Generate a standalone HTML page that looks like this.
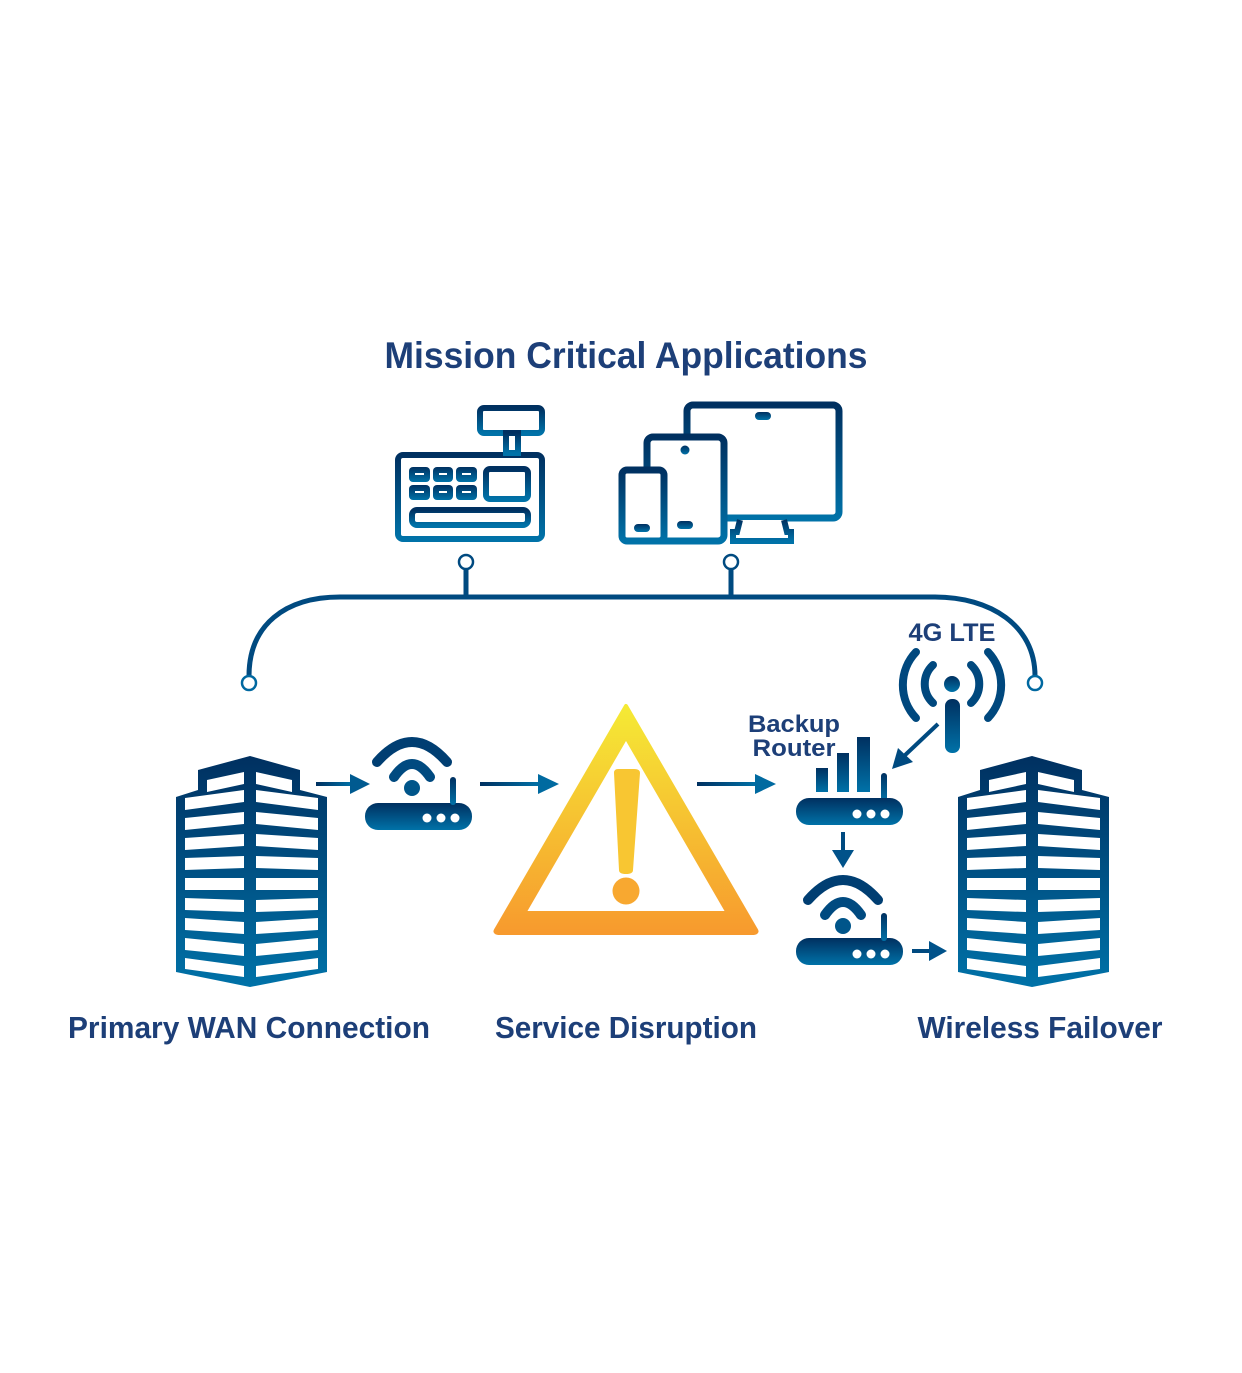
<!DOCTYPE html>
<html><head><meta charset="utf-8"><style>html,body{margin:0;padding:0;background:#fff}svg{display:block}</style></head>
<body>
<svg width="1242" height="1373" viewBox="0 0 1242 1373" xmlns="http://www.w3.org/2000/svg" font-family="'Liberation Sans', sans-serif" font-weight="bold">
<defs>
<linearGradient id="bl" x1="0" y1="0" x2="0" y2="1"><stop offset="0" stop-color="#003060"/><stop offset="1" stop-color="#0072a8"/></linearGradient>
<linearGradient id="yl" x1="0" y1="0" x2="0" y2="1"><stop offset="0" stop-color="#f5ea35"/><stop offset="1" stop-color="#f79a2e"/></linearGradient>
<linearGradient id="bh" x1="0" y1="0" x2="1" y2="0"><stop offset="0" stop-color="#003060"/><stop offset="1" stop-color="#0072a8"/></linearGradient>
<g id="bld">
<polygon points="198,770 250,756 300,770 300,790 327,797 327,972 250,987 176,972 176,797 198,790" fill="url(#bl)"/>
<g fill="#fff">
<polygon points="207,780 244,772 244,784 207,792"/><polygon points="256,772 292,780 292,792 256,784"/>
<polygon points="185,798 244,790 244,802 185,810"/><polygon points="256,790 318,798 318,810 256,802"/>
<polygon points="185,818 244,812 244,824 185,830"/><polygon points="256,812 318,818 318,830 256,824"/>
<polygon points="185,838 244,834 244,846 185,850"/><polygon points="256,834 318,838 318,850 256,846"/>
<polygon points="185,858 244,856 244,868 185,870"/><polygon points="256,856 318,858 318,870 256,868"/>
<polygon points="185,878 244,878 244,890 185,890"/><polygon points="256,878 318,878 318,890 256,890"/>
<polygon points="185,898 244,900 244,912 185,910"/><polygon points="256,900 318,898 318,910 256,912"/>
<polygon points="185,918 244,922 244,934 185,930"/><polygon points="256,922 318,918 318,930 256,934"/>
<polygon points="185,938 244,944 244,956 185,950"/><polygon points="256,944 318,938 318,950 256,956"/>
<polygon points="185,958 244,966 244,977 185,969"/><polygon points="256,966 318,958 318,969 256,977"/>
</g>
</g>
<g id="wifi" fill="none" stroke-width="10" stroke-linecap="round">
<path d="M377,762 Q412,722 447,762" stroke="#003e72"/>
<path d="M394,777 Q412,751 430,777" stroke="#004a80"/>
<circle cx="412" cy="788" r="8" fill="#00558a" stroke="none"/>
</g>
</defs>

<text x="626" y="368" font-size="37" fill="#1d3f78" text-anchor="middle" textLength="483" lengthAdjust="spacingAndGlyphs">Mission Critical Applications</text>

<!-- cash register -->
<g fill="none" stroke="url(#bl)" stroke-width="6">
<rect x="398" y="455" width="144" height="84" rx="5"/>
<rect x="480" y="408" width="62" height="25" rx="4"/>
<rect x="506" y="433" width="12" height="20"/>
<rect x="486" y="469" width="42" height="30" rx="4"/>
<rect x="412" y="510" width="116" height="15" rx="5"/>
</g>
<g fill="url(#bl)">
<rect x="409" y="467" width="21" height="15" rx="4"/><rect x="433" y="467" width="20" height="15" rx="4"/><rect x="456" y="467" width="21" height="15" rx="4"/>
<rect x="409" y="485" width="21" height="15" rx="4"/><rect x="433" y="485" width="20" height="15" rx="4"/><rect x="456" y="485" width="21" height="15" rx="4"/>
</g>
<g stroke="#fff" stroke-width="2"><path d="M415,474h9M439,474h8M462,474h9M415,492h9M439,492h8M462,492h9"/></g>

<!-- devices -->
<g stroke="url(#bl)" stroke-width="7" fill="#fff">
<rect x="687" y="405" width="152" height="113" rx="6"/>
<path d="M727,490 H839" fill="none"/>
<path d="M740,520 l-3,12 h-4 v9 h58 v-9 h-4 l-3,-12" stroke-width="6"/>
<rect x="647" y="437" width="77" height="104" rx="6"/>
<rect x="622" y="470" width="42" height="71" rx="5"/>
</g>
<g fill="url(#bl)">
<rect x="755" y="412" width="16" height="8" rx="4"/>
<circle cx="685" cy="450" r="4.5"/>
<rect x="677" y="521" width="16" height="8" rx="4"/>
<rect x="634" y="524" width="16" height="8" rx="4"/>
</g>

<!-- bus -->
<g fill="none" stroke-width="5">
<path d="M249,676 C249,625 285,597 340,597 L935,597 C990,597 1035,625 1035,676" stroke="#004a80"/>
<path d="M466,569 V597 M731,569 V597" stroke="#004a80"/>
</g>
<g fill="#fff" stroke="#004a80" stroke-width="2.5">
<circle cx="466" cy="562" r="7"/><circle cx="731" cy="562" r="7"/>
<circle cx="249" cy="683" r="7" stroke="#0068a0"/><circle cx="1035" cy="683" r="7" stroke="#0068a0"/>
</g>

<!-- buildings -->
<use href="#bld"/>
<use href="#bld" x="782"/>

<!-- left router -->
<rect x="365" y="803" width="107" height="27" rx="13" fill="url(#bl)"/>
<rect x="450" y="777" width="6" height="28" rx="3" fill="url(#bl)"/>
<g fill="#fff"><circle cx="427" cy="818" r="4.5"/><circle cx="441" cy="818" r="4.5"/><circle cx="455" cy="818" r="4.5"/></g>
<use href="#wifi"/>

<!-- arrows -->
<g fill="#004a80">
<rect x="316" y="782" width="36" height="4" fill="url(#bh)"/><polygon points="350,774 370,784 350,794" fill="#005a90"/>
<rect x="480" y="782" width="60" height="4" fill="url(#bh)"/><polygon points="538,774 559,784 538,794" fill="#006aa0"/>
<rect x="697" y="782" width="60" height="4" fill="url(#bh)"/><polygon points="755,774 776,784 755,794" fill="#006aa0"/>
<rect x="841" y="832" width="4" height="20"/><polygon points="832,850 854,850 843,868" fill="#00528a"/>
<rect x="912" y="949" width="20" height="4"/><polygon points="929,941 947,951 929,961" fill="#00528a"/>
<path d="M938,724 L902,758" stroke="#004a80" stroke-width="4"/><polygon points="892,769 898,748 913,762" fill="#004a80"/>
</g>

<!-- warning triangle -->
<path d="M626,706 L756,930 Q758,933 752,933 L500,933 Q494,933 496,930 Z M626,737 L524,913 L728,913 Z" fill="url(#yl)" fill-rule="evenodd" stroke="url(#yl)" stroke-width="4" stroke-linejoin="round"/>
<path d="M614,773 Q614,769 618,769 L634,769 Q640,769 640,773 L633,870 Q633,874 626,874 Q619,874 619,870 Z" fill="#f8c632"/>
<circle cx="626" cy="891" r="13.5" fill="#f8a830"/>

<!-- backup router -->
<g fill="url(#bl)">
<rect x="816" y="768" width="12" height="24"/>
<rect x="837" y="753" width="12" height="39"/>
<rect x="857" y="737" width="13" height="55"/>
<rect x="881" y="773" width="6" height="28" rx="3"/>
<rect x="796" y="798" width="107" height="27" rx="13"/>
</g>
<g fill="#fff"><circle cx="857" cy="814" r="4.5"/><circle cx="871" cy="814" r="4.5"/><circle cx="885" cy="814" r="4.5"/></g>

<!-- second router -->
<rect x="796" y="938" width="107" height="27" rx="13" fill="url(#bl)"/>
<rect x="881" y="913" width="6" height="28" rx="3" fill="url(#bl)"/>
<g fill="#fff"><circle cx="857" cy="954" r="4.5"/><circle cx="871" cy="954" r="4.5"/><circle cx="885" cy="954" r="4.5"/></g>
<use href="#wifi" transform="translate(431,138)"/>

<!-- tower -->
<circle cx="952" cy="684" r="8" fill="url(#bl)"/>
<rect x="945" y="699" width="15" height="54" rx="7" fill="url(#bl)"/>
<g fill="none" stroke="#00487e" stroke-width="8" stroke-linecap="round">
<path d="M933,665 A26,26 0 0 0 933,703"/>
<path d="M971,665 A26,26 0 0 1 971,703"/>
<path d="M916,652 A48,48 0 0 0 916,718"/>
<path d="M988,652 A48,48 0 0 1 988,718"/>
</g>

<g fill="#1d3f78">
<text x="952" y="641" font-size="25" text-anchor="middle" textLength="87" lengthAdjust="spacingAndGlyphs">4G LTE</text>
<text x="794" y="732" font-size="24" text-anchor="middle" textLength="92" lengthAdjust="spacingAndGlyphs">Backup</text>
<text x="794" y="756" font-size="24" text-anchor="middle" textLength="83" lengthAdjust="spacingAndGlyphs">Router</text>
<text x="249" y="1038" font-size="31" text-anchor="middle" textLength="362" lengthAdjust="spacingAndGlyphs">Primary WAN Connection</text>
<text x="626" y="1038" font-size="31" text-anchor="middle" textLength="262" lengthAdjust="spacingAndGlyphs">Service Disruption</text>
<text x="1040" y="1038" font-size="31" text-anchor="middle" textLength="245" lengthAdjust="spacingAndGlyphs">Wireless Failover</text>
</g>
</svg>
</body></html>
